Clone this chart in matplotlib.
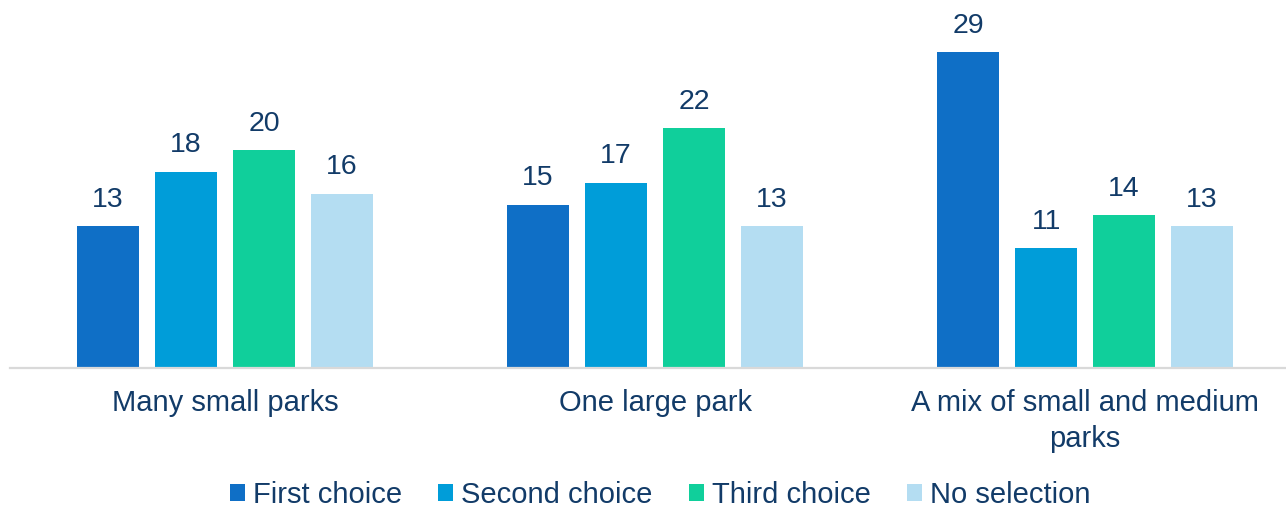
import matplotlib
matplotlib.use("Agg")
import matplotlib.pyplot as plt
from matplotlib.patches import Patch

categories = ["Many small parks", "One large park", "A mix of small and medium\nparks"]
series_names = ["First choice", "Second choice", "Third choice", "No selection"]
first_choice = [13, 15, 29]
second_choice = [18, 17, 11]
third_choice = [20, 22, 14]
no_selection = [16, 13, 13]
series_values = [first_choice, second_choice, third_choice, no_selection]
colors = ["#0F6FC6", "#009DD9", "#10CF9B", "#B4DDF2"]
text_color = "#123B68"

plt.rcParams["font.family"] = ["Liberation Sans", "DejaVu Sans"]
W, H = 1286, 507
fig = plt.figure(figsize=(W / 100, H / 100), dpi=100)
ax = fig.add_axes([10 / W, (H - 368) / H, 1276 / W, 360 / H])

bar_w = 0.144
step = 0.1814
for k, (vals, col) in enumerate(zip(series_values, colors)):
    xs = [i + (k - 1.5) * step for i in range(len(categories))]
    bars = ax.bar(xs, vals, width=bar_w, color=col, edgecolor="none", zorder=2)
    for b, v in zip(bars, vals):
        ax.annotate(str(v), (b.get_x() + b.get_width() / 2, v),
                    xytext=(0, 19), textcoords="offset points",
                    ha="center", va="center", fontsize=20.5, color=text_color,
                    family=["Liberation Sans Narrow", "Liberation Sans", "DejaVu Sans"])

ax.set_xlim(-0.5, 2.467)
ax.set_ylim(0, 33.03)
ax.set_xticks(range(len(categories)))
ax.set_xticklabels(categories, fontsize=21, color=text_color, linespacing=1.35)
ax.tick_params(axis="x", length=0, pad=15)
ax.set_yticks([])
for s in ["top", "right", "left"]:
    ax.spines[s].set_visible(False)
ax.spines["bottom"].set_color("#D9D9D9")
ax.spines["bottom"].set_linewidth(1.6)
ax.spines["bottom"].set_zorder(3)

handles = [Patch(facecolor=c, edgecolor="none") for c in colors]
fig.legend(handles, series_names, loc="center", bbox_to_anchor=(660 / W, 1 - 495 / H),
           ncol=4, frameon=False, fontsize=21, labelcolor=text_color,
           handlelength=0.51, handleheight=0.51, handletextpad=0.27,
           columnspacing=1.25, borderpad=0, borderaxespad=0)

fig.savefig("out.png", dpi=100)
